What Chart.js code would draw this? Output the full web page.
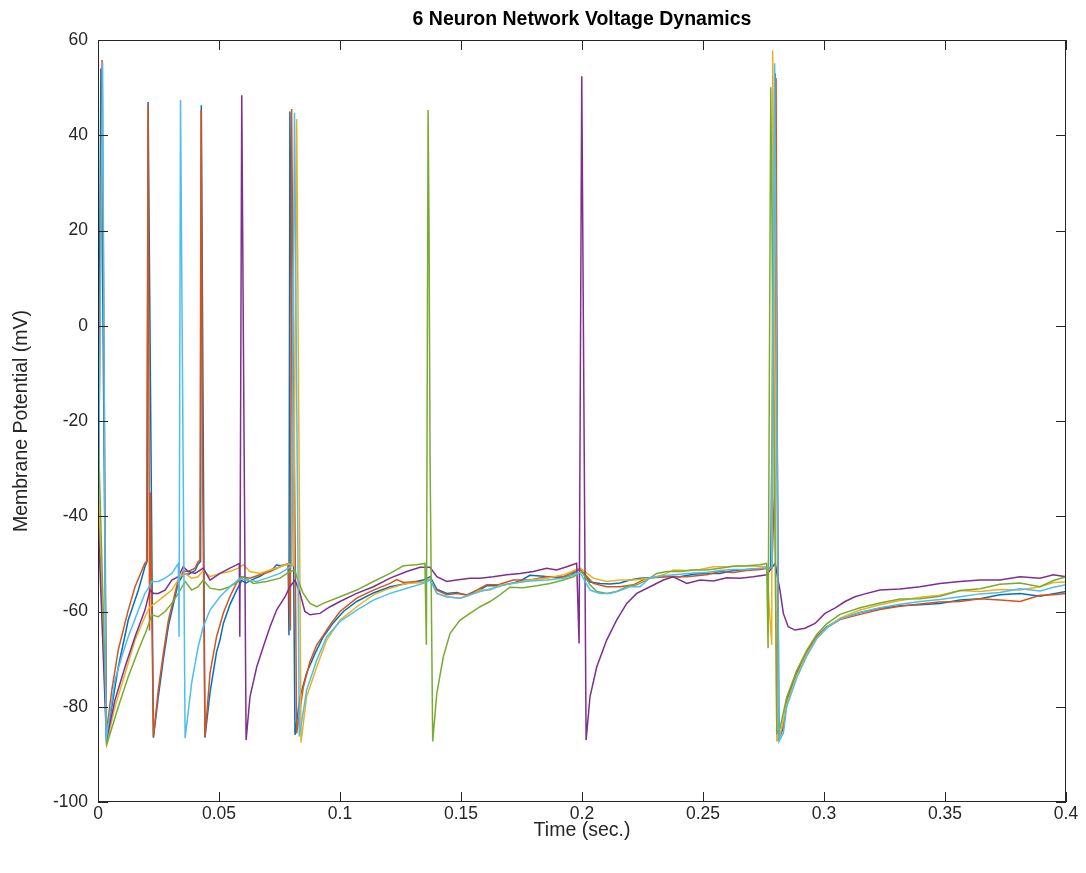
<!DOCTYPE html>
<html>
<head>
<meta charset="utf-8">
<script src="https://cdn.jsdelivr.net/npm/chart.js@4.4.1/dist/chart.umd.min.js"></script>
<style>
  html, body { margin: 0; padding: 0; background: #ffffff; }
  #wrap { width: 1086px; height: 873px; }
</style>
</head>
<body>
<div id="wrap"><canvas id="c" width="1086" height="873"></canvas></div>
<script>
// ---------------- DATA ----------------
const chartTitle = '6 Neuron Network Voltage Dynamics';
const xTitle = 'Time (sec.)';
const yTitle = 'Membrane Potential (mV)';
const xTickValues = [0, 0.05, 0.1, 0.15, 0.2, 0.25, 0.3, 0.35, 0.4];
const xTickLabels = ['0', '0.05', '0.1', '0.15', '0.2', '0.25', '0.3', '0.35', '0.4'];
const yTickValues = [-100, -80, -60, -40, -20, 0, 20, 40, 60];
const yTickLabels = ['-100', '-80', '-60', '-40', '-20', '0', '20', '40', '60'];
const seriesNames = ['Neuron 1', 'Neuron 2', 'Neuron 3', 'Neuron 4', 'Neuron 5', 'Neuron 6'];

// Neuron 1 (blue)
const t1 = [0,0.0012,0.0035,0.0057,0.0084,0.0125,0.0167,0.0194,0.0203,0.0207,0.0229,0.0249,0.0270,0.0291,0.0318,0.0332,0.0346,0.0352,0.0373,0.0401,0.0414,0.0424,0.0427,0.0442,0.0463,0.0490,0.0504,0.0518,0.0545,0.0573,0.0594,0.0612,0.0642,0.0669,0.0697,0.0724,0.0738,0.0752,0.0773,0.0786,0.0789,0.0793,0.0814,0.0835,0.0862,0.0897,0.0931,0.0972,0.1014,0.1069,0.1138,0.1207,0.1276,0.1344,0.1372,0.1400,0.1441,0.1482,0.1524,0.1565,0.1606,0.1654,0.1702,0.1744,0.1785,0.1840,0.1895,0.1950,0.1992,0.2033,0.2074,0.2116,0.2157,0.2198,0.2240,0.2281,0.2336,0.2405,0.2460,0.2515,0.2570,0.2625,0.2680,0.2736,0.2780,0.2798,0.2814,0.2832,0.2846,0.2887,0.2928,0.2970,0.3011,0.3066,0.3149,0.3231,0.3314,0.3397,0.3479,0.3562,0.3645,0.3727,0.3810,0.3893,0.4];
const v1 = [-45,54,-86.5,-80,-71.6,-61.8,-55.5,-50.6,-49.5,47,-86.5,-78,-70,-63,-57,-54,-52.8,-52,-52.2,-51.4,-50,-49.5,46.3,-86.5,-77,-68.5,-66,-62.5,-58.6,-55.5,-53.5,-54,-53.2,-52.6,-51.8,-51,-50.2,-50.4,-50.2,-50,-65,45,-85.9,-77.9,-72.9,-68.8,-65.3,-62.4,-60,-57.9,-56.1,-54.8,-54.1,-53.4,-52.7,-55.3,-56.2,-56,-56.6,-55.8,-54.6,-54.6,-54.2,-53.6,-52.4,-52.6,-52.9,-52.5,-51,-53.8,-54.1,-54.2,-54.0,-53.4,-53.0,-52.9,-52.6,-52.7,-52.2,-52.0,-52.0,-51.4,-51.2,-51.0,-50.8,53,-86.6,-84.5,-78.6,-73,-68.8,-65.3,-63.2,-61.6,-60.2,-59.3,-58.8,-58.6,-58.3,-57.6,-57.3,-56.5,-56.2,-56.8,-55.8];

// Neuron 2 (orange)
const t2 = [0,0.0017,0.0035,0.0057,0.0084,0.0125,0.0153,0.0194,0.0201,0.0207,0.0213,0.0216,0.0229,0.0249,0.0270,0.0291,0.0318,0.0332,0.0346,0.0352,0.0373,0.0401,0.0414,0.0421,0.0426,0.0433,0.0442,0.0463,0.0490,0.0518,0.0545,0.0573,0.0594,0.0628,0.0669,0.0711,0.0752,0.0786,0.0795,0.0800,0.0821,0.0848,0.0876,0.0904,0.0931,0.0959,0.1000,0.1069,0.1138,0.1207,0.1234,0.1262,0.1317,0.1344,0.1372,0.1400,0.1441,0.1482,0.1524,0.1565,0.1606,0.1654,0.1716,0.1785,0.1854,0.1923,0.1992,0.2047,0.2102,0.2157,0.2212,0.2267,0.2350,0.2433,0.2515,0.2570,0.2625,0.2680,0.2736,0.2785,0.2795,0.2802,0.2811,0.2832,0.2846,0.2887,0.2928,0.2970,0.3011,0.3066,0.3149,0.3231,0.3314,0.3397,0.3479,0.3562,0.3645,0.3727,0.3810,0.3893,0.3948,0.4];
const v2 = [-48,55.8,-85.5,-76.5,-68,-59.7,-54.8,-49.8,-49.5,46.5,-64,-35,-86.3,-76.5,-68.8,-61.8,-56.2,-53.2,-52.4,-51.5,-51.6,-50.9,-49.5,-49.3,45.3,-35,-86.3,-72.9,-65.3,-60.3,-56.9,-54,-52.7,-53,-52.3,-51.6,-50.6,-50,-64,45.5,-85.6,-76,-70.5,-67,-65,-62.8,-60,-57.2,-55.5,-54.1,-53.3,-53.9,-53.7,-53.9,-53.4,-55.5,-56.5,-56.2,-56.5,-55.5,-54.4,-54.4,-53.4,-53.4,-52.7,-52.7,-51.1,-54.1,-54.8,-54.8,-54.4,-53,-52.7,-52.7,-52.3,-51.6,-51.8,-51.4,-51.2,-50.8,-35,52,-86.6,-84,-78.4,-72.5,-68.5,-65.2,-63.4,-61.7,-60.6,-59.6,-58.9,-58.4,-58.0,-57.9,-57.3,-57.6,-57.9,-56.6,-56.5,-56.2];

// Neuron 3 (yellow)
const t3 = [0,0.0036,0.0070,0.0112,0.0153,0.0194,0.0215,0.0236,0.0263,0.0305,0.0339,0.0360,0.0387,0.0414,0.0435,0.0463,0.0504,0.0545,0.0580,0.0600,0.0628,0.0669,0.0711,0.0752,0.0786,0.0808,0.0821,0.0839,0.0862,0.0904,0.0945,0.1000,0.1069,0.1138,0.1207,0.1276,0.1344,0.1372,0.1400,0.1441,0.1496,0.1537,0.1579,0.1620,0.1661,0.1716,0.1785,0.1854,0.1923,0.1992,0.2047,0.2102,0.2157,0.2212,0.2281,0.2336,0.2377,0.2433,0.2488,0.2543,0.2598,0.2653,0.2715,0.2763,0.2784,0.2788,0.2805,0.2818,0.2846,0.2887,0.2928,0.2970,0.3011,0.3066,0.3149,0.3231,0.3314,0.3397,0.3479,0.3562,0.3645,0.3727,0.3810,0.3893,0.3948,0.4];
const v3 = [-32,-87.6,-80,-73,-66,-61.1,-59,-58.3,-57.2,-55.5,-52.7,-52,-53,-52.7,-51.3,-52.7,-52,-51.6,-50.9,-50.2,-51.6,-52,-51.3,-50.6,-50,-50.4,43.4,-87.5,-77.9,-71.6,-66,-61.8,-59,-56.5,-55.1,-54.1,-53.9,-53,-56.2,-56.9,-57.2,-56.6,-55.5,-55.5,-54.5,-54.1,-53.4,-53,-52.3,-50.9,-53,-53.7,-53.4,-53.4,-53,-52.3,-51.3,-51.4,-51.2,-50.6,-50.6,-50.4,-50.5,-50.6,-67,57.8,-87,-86,-79.5,-73.5,-69,-65.6,-63.4,-61.4,-59.7,-58.6,-57.7,-57.0,-56.6,-55.6,-55.8,-55.4,-55.5,-54.8,-53.9,-53.8];

// Neuron 4 (purple)
const t4 = [0,0.0035,0.0070,0.0112,0.0153,0.0194,0.0215,0.0229,0.0249,0.0277,0.0305,0.0332,0.0352,0.0373,0.0401,0.0435,0.0463,0.0504,0.0545,0.0573,0.0584,0.0586,0.0594,0.0612,0.0628,0.0656,0.0683,0.0711,0.0738,0.0773,0.0793,0.0814,0.0835,0.0855,0.0876,0.0917,0.0959,0.1000,0.1069,0.1138,0.1207,0.1276,0.1331,0.1372,0.1400,0.1441,0.1482,0.1537,0.1579,0.1633,0.1689,0.1744,0.1799,0.1854,0.1895,0.1937,0.1978,0.1988,0.1999,0.2017,0.2033,0.2061,0.2102,0.2143,0.2185,0.2226,0.2281,0.2336,0.2377,0.2433,0.2488,0.2543,0.2598,0.2653,0.2708,0.2763,0.2798,0.2818,0.2832,0.2852,0.2880,0.2921,0.2963,0.3004,0.3045,0.3087,0.3128,0.3169,0.3231,0.3314,0.3397,0.3479,0.3562,0.3645,0.3727,0.3810,0.3893,0.3948,0.4];
const v4 = [-40,-87,-78.6,-71.6,-65.3,-59.7,-55.5,-56.2,-56.2,-55.5,-53.4,-52.7,-50.6,-51.6,-52,-50.9,-53.4,-52,-50.9,-50.2,-49.9,-65.3,48.4,-87,-77.9,-71.6,-67.4,-63.2,-59.7,-56.9,-54.8,-53.4,-56.2,-60,-60.7,-60.4,-59,-57.9,-56.2,-54.8,-53,-51.6,-50.7,-50.7,-52.7,-53.7,-53.4,-53,-53,-52.7,-52.3,-52,-51.6,-50.9,-51.3,-50.6,-49.9,-66.7,52.4,-87,-77.9,-71.6,-66,-61.8,-58.3,-56.2,-54.8,-53.4,-52.7,-54.1,-53.4,-53.6,-52.9,-53,-52.7,-52.3,-49.9,-55.5,-60.4,-63.2,-63.9,-63.5,-62.5,-60.4,-59.3,-57.9,-56.9,-56.3,-55.5,-55.3,-54.8,-54.1,-53.7,-53.4,-53.4,-52.7,-53,-52.3,-52.7];

// Neuron 5 (green)
const t5 = [0,0.0037,0.0084,0.0125,0.0167,0.0201,0.0222,0.0249,0.0277,0.0305,0.0332,0.0360,0.0387,0.0414,0.0435,0.0463,0.0504,0.0545,0.0587,0.0600,0.0642,0.0697,0.0752,0.0793,0.0814,0.0821,0.0848,0.0876,0.0904,0.0931,0.1000,0.1069,0.1138,0.1207,0.1262,0.1317,0.1351,0.1357,0.1364,0.1368,0.1372,0.1383,0.1400,0.1427,0.1455,0.1496,0.1537,0.1579,0.1620,0.1661,0.1702,0.1757,0.1813,0.1868,0.1923,0.1964,0.1999,0.2033,0.2061,0.2102,0.2143,0.2185,0.2226,0.2267,0.2309,0.2350,0.2405,0.2460,0.2515,0.2570,0.2625,0.2680,0.2736,0.2763,0.2769,0.2780,0.2805,0.2818,0.2846,0.2887,0.2928,0.2970,0.3011,0.3066,0.3149,0.3231,0.3314,0.3397,0.3479,0.3562,0.3645,0.3727,0.3810,0.3893,0.3948,0.4];
const v5 = [-20,-87.8,-80,-73.7,-68.1,-63.9,-60.7,-61.1,-60,-58.3,-56.2,-53.7,-55.5,-54.8,-53.4,-55.1,-55.5,-54.8,-53.4,-52.7,-54.1,-53.7,-53,-51.6,-51.3,-52.7,-56.2,-58.3,-59,-58.3,-56.9,-55.5,-53.7,-52,-50.4,-50.2,-49.9,-67,45.3,20,-27,-87.3,-77.2,-69.5,-64.6,-61.8,-60.4,-59,-57.9,-56.5,-54.9,-55,-54.6,-54.1,-53.4,-52.7,-51.6,-54.4,-55.8,-56.2,-55.8,-54.8,-54.4,-53.4,-52,-51.6,-51.6,-51.3,-51.3,-50.9,-50.5,-50.4,-50.2,-49.9,-67.7,50.1,-85.5,-84.5,-78,-72.5,-68.2,-64.8,-62.6,-60.6,-59.2,-58.2,-57.4,-57.3,-56.8,-55.6,-55.2,-54.3,-54.0,-54.8,-53.5,-52.7];

// Neuron 6 (cyan)
const t6 = [0,0.0019,0.0033,0.0070,0.0098,0.0125,0.0167,0.0194,0.0215,0.0222,0.0249,0.0277,0.0305,0.0332,0.0335,0.0341,0.0360,0.0387,0.0414,0.0435,0.0463,0.0504,0.0545,0.0587,0.0612,0.0656,0.0697,0.0752,0.0786,0.0800,0.0812,0.0832,0.0862,0.0904,0.0945,0.1000,0.1069,0.1138,0.1207,0.1276,0.1344,0.1372,0.1400,0.1441,0.1496,0.1537,0.1579,0.1606,0.1654,0.1702,0.1785,0.1854,0.1923,0.1992,0.2033,0.2074,0.2116,0.2157,0.2198,0.2240,0.2281,0.2336,0.2405,0.2460,0.2515,0.2570,0.2625,0.2680,0.2736,0.2785,0.2796,0.2814,0.2832,0.2846,0.2887,0.2928,0.2970,0.3011,0.3066,0.3149,0.3231,0.3314,0.3397,0.3479,0.3562,0.3645,0.3727,0.3810,0.3893,0.3948,0.4];
const v6 = [-47,55.2,-87,-74.4,-69.5,-65.3,-59.7,-56.2,-54.5,-53.7,-53.7,-53,-52,-49.9,-65.3,47.4,-86.6,-75,-67.4,-63.2,-59.7,-56.9,-54.8,-53,-53.4,-53.7,-53,-52,-50.9,-50.5,44.7,-86.3,-76.5,-70.2,-65.3,-62.1,-59.7,-57.6,-56.2,-55.1,-54.1,-53.3,-56.2,-56.9,-57.2,-56.5,-55.8,-55.5,-54.8,-54.1,-53.6,-53.4,-53,-51.8,-55.5,-56.2,-56.2,-55.6,-54.8,-54.8,-52.9,-52.5,-52.2,-51.9,-51.8,-51.4,-51.2,-51.2,-50.9,-50.8,55.1,-87.3,-85.5,-80,-74,-69.4,-65.7,-63.5,-61.6,-60.2,-59.2,-58.5,-57.9,-57.5,-56.9,-56.3,-56,-55.2,-55.7,-54.9,-54.4];

const seriesTimes = [t1, t2, t3, t4, t5, t6];
const seriesValues = [v1, v2, v3, v4, v5, v6];
const seriesColors = ['#0072BD', '#D95319', '#EDB120', '#7E2F8E', '#77AC30', '#4DBEEE'];

// ---------------- CHART ----------------
const FONT = '"Liberation Sans", Arial, Helvetica, sans-serif';
const INK = '#262626';

const datasets = seriesNames.map((name, i) => ({
  label: name,
  data: seriesTimes[i].map((t, k) => ({ x: t, y: seriesValues[i][k] })),
  borderColor: seriesColors[i],
  backgroundColor: seriesColors[i],
  borderWidth: 1.5,
  pointRadius: 0,
  tension: 0,
  fill: false,
  order: seriesNames.length - 1 - i
}));

const boxAndTicks = {
  id: 'boxAndTicks',
  afterDatasetsDraw(chart) {
    const { ctx, chartArea: a, scales: { x, y } } = chart;
    const len = 10;
    ctx.save();
    ctx.strokeStyle = INK;
    ctx.lineWidth = 1;
    ctx.beginPath();
    x.ticks.forEach(tk => {
      const px = Math.round(x.getPixelForValue(tk.value)) + 0.5;
      ctx.moveTo(px, a.bottom); ctx.lineTo(px, a.bottom - len);
      ctx.moveTo(px, a.top); ctx.lineTo(px, a.top + len);
    });
    y.ticks.forEach(tk => {
      const py = Math.round(y.getPixelForValue(tk.value)) + 0.5;
      ctx.moveTo(a.left, py); ctx.lineTo(a.left + len, py);
      ctx.moveTo(a.right, py); ctx.lineTo(a.right - len, py);
    });
    ctx.stroke();
    ctx.strokeRect(Math.round(a.left) + 0.5, Math.round(a.top) + 0.5,
                   Math.round(a.right - a.left) - 1, Math.round(a.bottom - a.top) - 1);
    ctx.restore();
  }
};

new Chart(document.getElementById('c'), {
  type: 'line',
  data: { datasets },
  options: {
    responsive: false,
    devicePixelRatio: 1,
    animation: false,
    events: [],
    layout: { padding: { left: 0, right: 20, top: 0, bottom: 0 } },
    plugins: {
      legend: { display: false },
      tooltip: { enabled: false },
      title: {
        display: true,
        text: chartTitle,
        fullSize: false,
        color: '#000000',
        font: { family: FONT, size: 19.5, weight: 'bold', lineHeight: 1.2 },
        padding: { top: 8.3, bottom: 8.3 }
      }
    },
    scales: {
      x: {
        type: 'linear',
        min: 0, max: 0.4,
        grid: { display: false, drawTicks: false },
        border: { display: false },
        afterBuildTicks(scale) { scale.ticks = xTickValues.map(v => ({ value: v })); },
        afterFit(scale) { scale.height = 71; },
        ticks: {
          color: INK,
          padding: 2,
          maxRotation: 0,
          autoSkip: false,
          font: { family: FONT, size: 17.5 },
          callback: (v) => xTickLabels[xTickValues.indexOf(v)]
        },
        title: {
          display: true, text: xTitle, color: INK,
          font: { family: FONT, size: 19.5, lineHeight: 1.2 },
          padding: { top: 0, bottom: 31 }
        }
      },
      y: {
        type: 'linear',
        min: -100, max: 60,
        grid: { display: false, drawTicks: false },
        border: { display: false },
        afterBuildTicks(scale) { scale.ticks = yTickValues.map(v => ({ value: v })); },
        afterFit(scale) { scale.width = 98; },
        ticks: {
          color: INK,
          padding: 10,
          autoSkip: false,
          font: { family: FONT, size: 17.5 },
          callback: (v) => yTickLabels[yTickValues.indexOf(v)]
        },
        title: {
          display: true, text: yTitle, color: INK,
          font: { family: FONT, size: 19.5, lineHeight: 1.2 },
          padding: { top: 10, bottom: 0 }
        }
      }
    }
  },
  plugins: [boxAndTicks]
});
</script>
</body>
</html>
